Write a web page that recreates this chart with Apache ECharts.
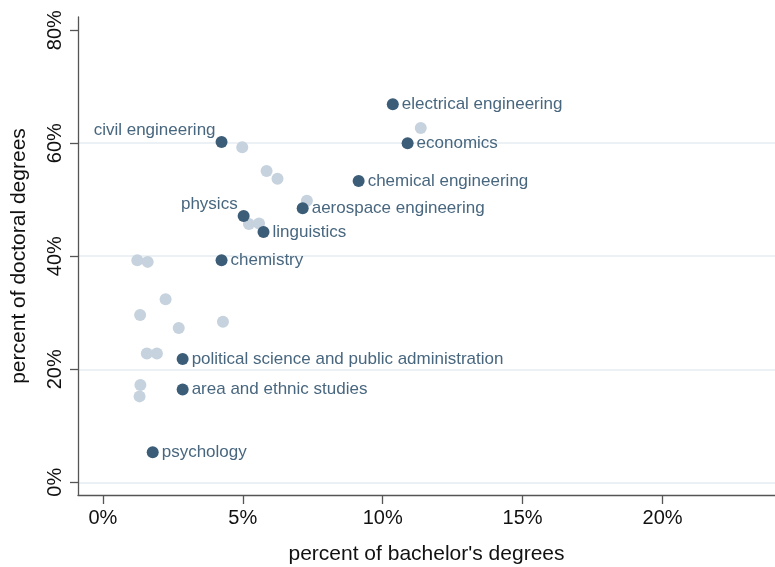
<!DOCTYPE html>
<html>
<head>
<meta charset="utf-8">
<script src="https://cdn.jsdelivr.net/npm/echarts@6/dist/echarts.min.js"></script>
<style>
html, body { margin: 0; padding: 0; background: #fff; }
#chart { width: 775px; height: 567px; }
</style>
</head>
<body>
<div id="chart"></div>
<script>
// labelled fields (dark points)
var fieldNames = ['electrical engineering', 'economics', 'chemical engineering', 'aerospace engineering',
    'civil engineering', 'physics', 'linguistics', 'chemistry',
    'political science and public administration', 'area and ethnic studies', 'psychology'];
var fieldBachelor = [10.36, 10.89, 9.14, 7.14, 4.24, 5.03, 5.74, 4.24, 2.85, 2.85, 1.78];
var fieldDoctoral = [66.9, 60.0, 53.3, 48.5, 60.2, 47.1, 44.3, 39.3, 21.8, 16.4, 5.3];

// other fields (light points)
var otherBachelor = [11.36, 4.98, 5.85, 6.24, 7.29, 5.22, 5.58, 1.23, 1.60, 2.24, 1.33, 2.71, 4.29, 1.57, 1.93, 1.34, 1.31];
var otherDoctoral = [62.7, 59.3, 55.1, 53.7, 49.8, 45.7, 45.8, 39.3, 39.0, 32.4, 29.6, 27.3, 28.4, 22.8, 22.8, 17.2, 15.2];

var xTicks = [0, 5, 10, 15, 20];
var yTicks = [0, 20, 40, 60, 80];
var yGridLines = [0, 20, 40, 60];

var darkColor = '#3c5d78';
var lightColor = '#c6d2de';
var leftLabelled = ['civil engineering', 'physics'];

var myChart = echarts.init(document.getElementById('chart'));

var darkData = [];
for (var i = 0; i < fieldNames.length; i++) {
    var item = { name: fieldNames[i], value: [fieldBachelor[i], fieldDoctoral[i]] };
    if (leftLabelled.indexOf(fieldNames[i]) > -1) {
        item.label = { position: 'left', distance: 0, offset: [0, -12] };
    }
    darkData.push(item);
}
var lightData = [];
for (var j = 0; j < otherBachelor.length; j++) {
    lightData.push([otherBachelor[j], otherDoctoral[j]]);
}

var option = {
    animation: false,
    textStyle: { fontFamily: 'Liberation Sans, Arial, sans-serif' },
    grid: { left: 78, right: 0, top: 17, bottom: 72, containLabel: false, outerBoundsMode: 'none' },
    xAxis: {
        type: 'value',
        min: -0.89,
        max: 24.02,
        name: "percent of bachelor's degrees",
        nameLocation: 'middle',
        nameGap: 49,
        nameTextStyle: { fontSize: 21, color: '#111' },
        axisLine: { show: true, onZero: false, lineStyle: { color: '#555', width: 1.3 } },
        axisTick: { show: true, customValues: xTicks, length: 9, lineStyle: { color: '#555', width: 1.3 } },
        axisLabel: { customValues: xTicks, margin: 13, fontSize: 20, color: '#111', formatter: '{value}%' },
        splitLine: { show: false }
    },
    yAxis: {
        type: 'value',
        min: -2.25,
        max: 82.33,
        name: 'percent of doctoral degrees',
        nameLocation: 'middle',
        nameGap: 48,
        nameTextStyle: { fontSize: 21, color: '#111' },
        axisLine: { show: true, onZero: false, lineStyle: { color: '#555', width: 1.3 } },
        axisTick: { show: true, customValues: yTicks, length: 8, lineStyle: { color: '#555', width: 1.3 } },
        axisLabel: { customValues: yTicks, margin: 13, fontSize: 20, color: '#111', rotate: 90, formatter: '{value}%' },
        splitLine: { show: false }
    },
    series: [
        {
            type: 'scatter',
            symbolSize: 12,
            itemStyle: { color: lightColor, opacity: 1 },
            data: lightData,
            markLine: {
                silent: true,
                z: 0,
                symbol: 'none',
                label: { show: false },
                lineStyle: { color: '#e6edf2', width: 1.5, type: 'solid' },
                data: yGridLines.map(function (v) { return { yAxis: v }; })
            },
            z: 2
        },
        {
            type: 'scatter',
            symbolSize: 12,
            itemStyle: { color: darkColor, opacity: 1 },
            label: {
                show: true,
                position: 'right',
                distance: 3,
                formatter: '{b}',
                fontSize: 17,
                color: '#48677f'
            },
            data: darkData,
            z: 3
        }
    ]
};
myChart.setOption(option);
</script>
</body>
</html>
